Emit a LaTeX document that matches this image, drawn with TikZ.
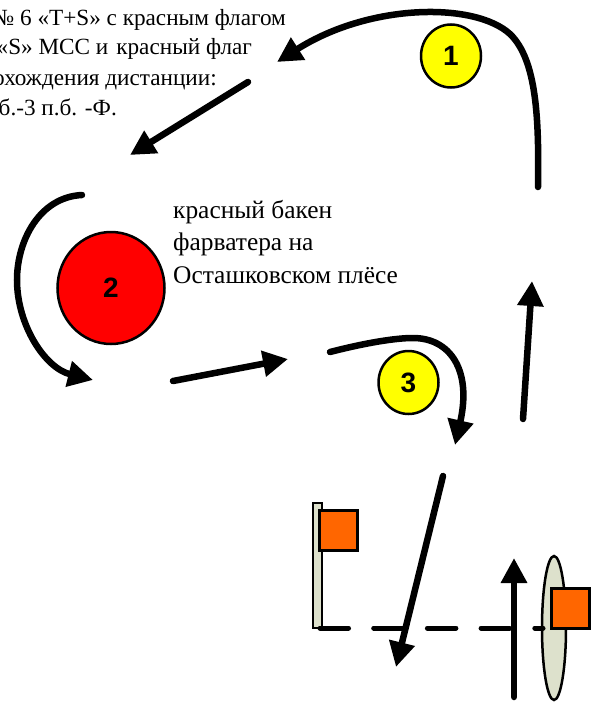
\documentclass[tikz,border=0pt]{standalone}
\usepackage{fontspec}
\setmainfont{Liberation Serif}
\setsansfont{Liberation Sans}
\usetikzlibrary{arrows.meta,shapes.geometric}
\definecolor{flagorange}{HTML}{FF6600}
\definecolor{polegrey}{HTML}{DDE1CC}
\definecolor{markyellow}{HTML}{FFFF00}
\tikzset{
  route/.style={line width=6.5pt,line cap=round,-{Triangle[length=25pt,width=25pt]}},
  mark circle/.style={ellipse,draw=black,line width=2.5pt,inner sep=0pt,font=\sffamily\bfseries\fontsize{28pt}{28pt}\selectfont},
  caption/.style={anchor=base west,inner sep=0pt,font=\fontsize{23.2pt}{23.2pt}\selectfont},
  label text/.style={anchor=base west,inner sep=0pt,font=\fontsize{25.4pt}{25.4pt}\selectfont},
  flagbox/.style={rectangle,draw=black,line width=2.5pt,fill=flagorange,minimum width=38pt,minimum height=40pt,inner sep=0pt},
}
\begin{document}
\begin{tikzpicture}[x=1pt,y=-1pt]
\useasboundingbox (0,0) rectangle (601,706);
\clip (0,0) rectangle (601,706);
% text
\node[caption] (t1) at (-8,26) {№ 6 «T+S» с красным флагом};
\node[caption] (t2) at (-3.5,55) {«S» МСС и\hspace{8pt}красный флаг};
\node[caption] (t3) at (-31,86) {прохождения дистанции:};
\node[caption] (t4) at (-1.5,115) {б.-3 п.б. -Ф.};
\node[label text] (t5) at (173,218) {красный бакен};
\node[label text] (t6) at (173,250) {фарватера на};
\node[label text] (t7) at (173,283) {Осташковском плёсе};
% marks
\node[mark circle,fill=markyellow,minimum width=60pt,minimum height=63pt] (m1) at (451,56) {1};
\node[mark circle,fill=red,minimum width=107pt,minimum height=112pt] (m2) at (111,288) {2};
\node[mark circle,fill=markyellow,minimum width=60pt,minimum height=63pt] (m3) at (408.5,382.5) {3};
% free ends
\coordinate (a1s) at (538,187);
\coordinate (a1e) at (277,62);
\coordinate (b1s) at (248,82);
\coordinate (b1e) at (130,155);
\coordinate (a2s) at (82,195);
\coordinate (a2e) at (93,380);
\coordinate (b2s) at (173,381);
\coordinate (b2e) at (288,359);
\coordinate (a3s) at (330,352);
\coordinate (a3e) at (455,445);
\coordinate (b3s) at (523,419);
\coordinate (b3e) at (532,281);
\coordinate (b4s) at (443,476);
\coordinate (b4e) at (396,667);
\coordinate (b5s) at (514,697);
\coordinate (b5e) at (514,558);
\coordinate (ds) at (320,628);
\coordinate (de) at (543,628);
% arrows
\draw[route] (a1s) .. controls (539,120) and (537,60) .. (510,34) .. controls (475,2) and (370,3) .. (a1e);
\draw[route] (b1s) -- (b1e);
\draw[route] (a2s) .. controls (40,197) and (17,240) .. (17,280) .. controls (17,325) and (45,368) .. (a2e);
\draw[route] (b2s) -- (b2e);
\draw[route] (a3s) .. controls (365,343) and (395,338) .. (413,338) .. controls (450,338) and (472,370) .. (a3e);
\draw[route] (b3s) -- (b3e);
% flag pole and far mark
\path[draw=black,line width=2.5pt,fill=polegrey] (313,503) rectangle (322,628);
\node[draw=black,line width=2.5pt,fill=polegrey,ellipse,minimum width=24pt,minimum height=144pt,inner sep=0pt] (ell) at (554,628) {};
\node[flagbox,anchor=north west] (f1) at (318,509) {};
\node[flagbox,anchor=north west] (f2) at (550,587) {};
\draw[line width=5pt,line cap=round,dash pattern=on 28.5pt off 25.2pt] (ds) -- (de);
\draw[route] (b4s) -- (b4e);
\draw[route] (b5s) -- (b5e);
\end{tikzpicture}
\end{document}
